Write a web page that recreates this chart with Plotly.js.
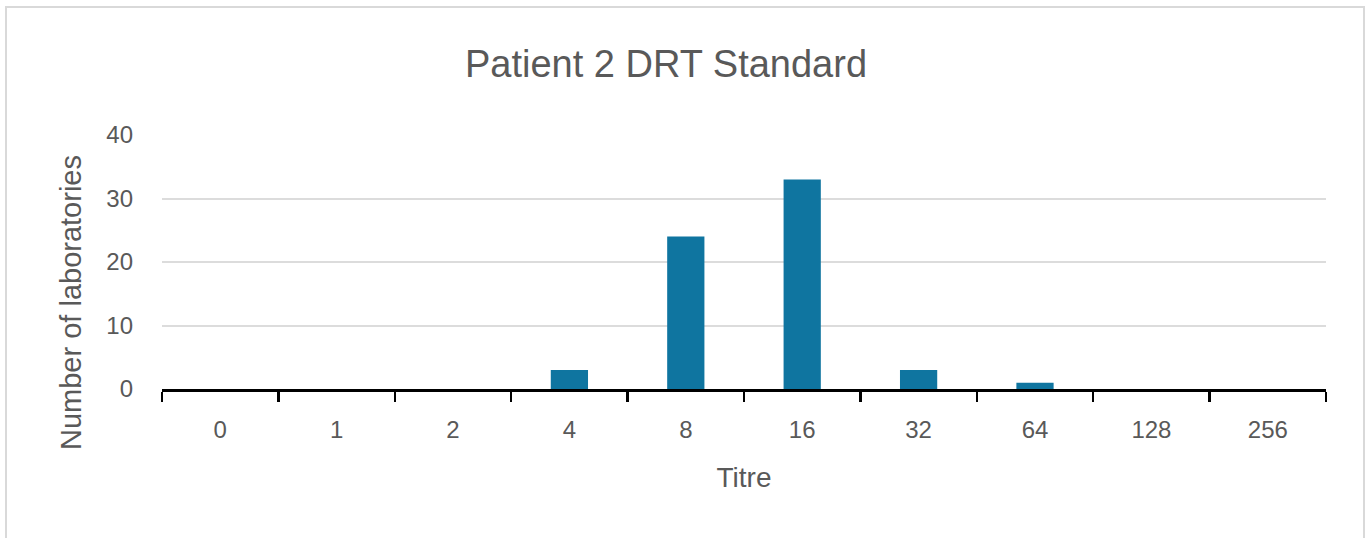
<!DOCTYPE html>
<html>
<head>
<meta charset="utf-8">
<script src="https://cdn.plot.ly/plotly-3.0.1.min.js"></script>
<style>
html, body { margin: 0; padding: 0; background: #ffffff; }
#chart { width: 1370px; height: 538px; }
</style>
</head>
<body>
<div id="chart"></div>
<script>
const titreCategories = ["0", "1", "2", "4", "8", "16", "32", "64", "128", "256"];
const laboratoryCounts = [0, 0, 0, 3, 24, 33, 3, 1, 0, 0];
const yTickValues = [0, 10, 20, 30, 40];

const FONT = '"Liberation Sans", Arial, sans-serif';
const GREY = '#595959';

const trace = {
  type: 'bar',
  x: titreCategories,
  y: laboratoryCounts,
  marker: { color: '#0f75a0', line: { width: 0 } },
  hoverinfo: 'x+y'
};

const layout = {
  width: 1370,
  height: 538,
  margin: { l: 162, r: 44, t: 135, b: 149, pad: 0 },
  paper_bgcolor: '#ffffff',
  plot_bgcolor: '#ffffff',
  showlegend: false,
  bargap: 0.68,
  font: { family: FONT, color: GREY },
  title: {
    text: 'Patient 2 DRT Standard',
    font: { family: FONT, size: 38, color: GREY },
    xref: 'container', yref: 'container',
    x: 666 / 1370, xanchor: 'center',
    y: 1 - 64 / 538, yanchor: 'middle'
  },
  xaxis: {
    type: 'category',
    categoryorder: 'array',
    categoryarray: titreCategories,
    showline: true,
    linecolor: '#000000',
    linewidth: 2.5,
    ticks: 'outside',
    tickson: 'boundaries',
    ticklen: 10,
    tickwidth: 2.5,
    tickcolor: '#000000',
    ticklabelstandoff: 18,
    tickfont: { family: FONT, size: 24, color: GREY },
    showgrid: false,
    zeroline: false,
    title: {
      text: 'Titre',
      font: { family: FONT, size: 28, color: GREY },
      standoff: 25
    }
  },
  yaxis: {
    range: [0, 40],
    tickvals: yTickValues,
    ticktext: yTickValues.map(String),
    showline: false,
    ticks: '',
    ticklabelstandoff: 28,
    tickfont: { family: FONT, size: 24, color: GREY },
    showgrid: true,
    gridcolor: '#dcdcdc',
    gridwidth: 2,
    zeroline: false
  },
  annotations: [{
    text: 'Number of laboratories',
    xref: 'paper', yref: 'paper',
    x: (71 - 162) / 1164, y: (389 - 303) / 254,
    xanchor: 'center', yanchor: 'middle',
    textangle: -90,
    showarrow: false,
    font: { family: FONT, size: 29, color: GREY }
  }],
  shapes: [{
    type: 'rect',
    xref: 'paper', yref: 'paper',
    x0: (6 - 162) / 1164, x1: (1364 - 162) / 1164,
    y0: (389 - 545) / 254, y1: (389 - 7) / 254,
    line: { color: '#d9d9d9', width: 2 },
    fillcolor: 'rgba(0,0,0,0)',
    layer: 'below'
  }]
};

Plotly.newPlot('chart', [trace], layout, { displayModeBar: false, staticPlot: true });
</script>
</body>
</html>
